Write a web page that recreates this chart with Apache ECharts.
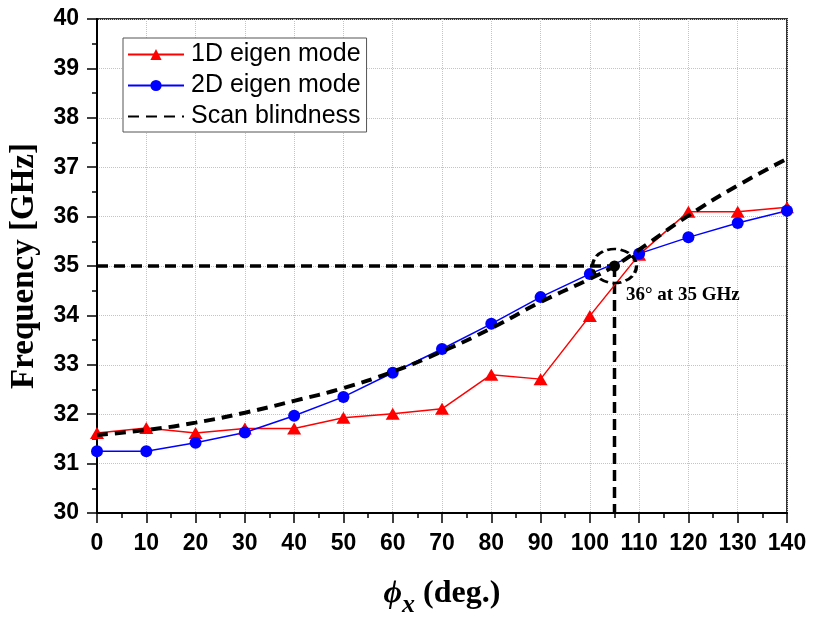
<!DOCTYPE html>
<html>
<head>
<meta charset="utf-8">
<script src="https://cdn.jsdelivr.net/npm/echarts@6/dist/echarts.min.js"></script>
<style>
html,body{margin:0;padding:0;background:#fff;}
#chart{width:813px;height:619px;}
</style>
</head>
<body>
<div id="chart"></div>
<script>
// ---- data ----
const angles = [0, 10, 20, 30, 40, 50, 60, 70, 80, 90, 100, 110, 120, 130, 140];
const mode1D = [31.62, 31.72, 31.62, 31.71, 31.71, 31.93, 32.01, 32.11, 32.80, 32.71, 33.99, 35.23, 36.10, 36.10, 36.19];
const mode2D = [31.25, 31.25, 31.42, 31.63, 31.97, 32.35, 32.84, 33.32, 33.83, 34.37, 34.84, 35.25, 35.58, 35.87, 36.12];
const blindAngles = [0, 10, 20, 30, 40, 50, 60, 70, 80, 90, 100, 105, 110, 120, 130, 140];
const blindFreq = [31.58, 31.68, 31.83, 32.03, 32.27, 32.53, 32.86, 33.27, 33.74, 34.27, 34.74, 35.0, 35.33, 36.02, 36.63, 37.17];
const markAngle = 105;
const markFreq = 35;
const axisMinFreq = 30;
const axisMinAngle = 0;
const seriesNames = ['1D eigen mode', '2D eigen mode', 'Scan blindness'];
const annotationText = '36° at 35 GHz';

const pair = (xs, ys) => xs.map((x, i) => [x, ys[i]]);

const chart = echarts.init(document.getElementById('chart'), null, {renderer: 'canvas'});
const sansBold = {fontFamily: '"Liberation Sans", Arial, sans-serif', fontWeight: 'bold', color: '#000'};
const serifBold = {fontFamily: '"Liberation Serif", "Times New Roman", serif', fontWeight: 'bold', color: '#000'};

const option = {
  animation: false,
  backgroundColor: '#fff',
  grid: {left: 97, right: 26, top: 19, bottom: 106, containLabel: false, outerBoundsMode: 'none', show: true, borderColor: '#333', borderWidth: 2, backgroundColor: 'transparent'},
  legend: {
    data: [
      {name: seriesNames[0]},
      {name: seriesNames[1]},
      {name: seriesNames[2], itemStyle: {opacity: 0}}
    ],
    orient: 'vertical',
    left: 123, top: 38,
    padding: [4, 6, 3, 4],
    itemGap: 6,
    itemWidth: 56, itemHeight: 14,
    borderColor: '#555', borderWidth: 1,
    backgroundColor: '#fff',
    textStyle: {fontFamily: '"Liberation Sans", Arial, sans-serif', fontSize: 25, color: '#000', padding: [0, 0, 0, 2]}
  },
  xAxis: {
    type: 'value', min: 0, max: 140, interval: 10,
    axisLine: {show: true, onZero: false, lineStyle: {color: '#000', width: 2}},
    axisTick: {show: true, length: 10, lineStyle: {color: '#000', width: 1.5}},
    minorTick: {show: true, splitNumber: 2, length: 5, lineStyle: {color: '#000', width: 1.5}},
    splitLine: {show: true, lineStyle: {color: '#c4c4c4', type: 'dotted', width: 1}},
    axisLabel: Object.assign({fontSize: 23, margin: 19}, sansBold),
    name: '{p|ϕ}{s|x}{n| (deg.)}',
    nameLocation: 'middle',
    nameGap: 65,
    nameTextStyle: {
      rich: {
        p: Object.assign({fontSize: 32, fontStyle: 'italic', lineHeight: 34, verticalAlign: 'top'}, serifBold),
        s: Object.assign({fontSize: 26, fontStyle: 'italic', lineHeight: 26, padding: [14, 0, 0, 0], verticalAlign: 'top'}, serifBold),
        n: Object.assign({fontSize: 32, lineHeight: 34, verticalAlign: 'top'}, serifBold)
      }
    }
  },
  yAxis: {
    type: 'value', min: 30, max: 40, interval: 1,
    axisLine: {show: true, onZero: false, lineStyle: {color: '#000', width: 2}},
    axisTick: {show: true, length: 10, lineStyle: {color: '#000', width: 1.5}},
    minorTick: {show: true, splitNumber: 2, length: 5, lineStyle: {color: '#000', width: 1.5}},
    splitLine: {show: true, lineStyle: {color: '#c4c4c4', type: 'dotted', width: 1}},
    axisLabel: Object.assign({fontSize: 23, margin: 18}, sansBold),
    name: 'Frequency [GHz]',
    nameLocation: 'middle',
    nameGap: 56,
    nameTextStyle: Object.assign({fontSize: 33}, serifBold)
  },
  series: [
    {
      name: 'guideH', type: 'line', silent: true,
      data: [[axisMinAngle, markFreq], [markAngle, markFreq]],
      symbol: 'none',
      lineStyle: {color: '#000', width: 3.5, type: [11, 6]}, z: 3
    },
    {
      name: 'guideV', type: 'line', silent: true,
      data: [[markAngle, markFreq], [markAngle, axisMinFreq]],
      symbol: 'none',
      lineStyle: {color: '#000', width: 3.5, type: [11, 6]}, z: 3
    },
    {
      name: seriesNames[0], type: 'line',
      data: pair(angles, mode1D),
      symbol: 'triangle', symbolSize: [14, 12],
      itemStyle: {color: '#ff0000'},
      lineStyle: {color: '#ff0000', width: 1.5}, z: 4
    },
    {
      name: seriesNames[1], type: 'line',
      data: pair(angles, mode2D),
      symbol: 'circle', symbolSize: 12,
      itemStyle: {color: '#0000ff'},
      lineStyle: {color: '#0000ff', width: 1.5}, z: 4
    },
    {
      name: seriesNames[2], type: 'line',
      data: pair(blindAngles, blindFreq),
      smooth: true, symbol: 'none',
      itemStyle: {color: '#000'},
      lineStyle: {color: '#000', width: 4, type: [11, 7]}, z: 5
    },
    {
      name: 'markDot', type: 'scatter',
      data: [[markAngle, markFreq]],
      symbol: 'circle', symbolSize: 11,
      itemStyle: {color: '#000', opacity: 1},
      label: {
        show: true, position: 'right', distance: 6, offset: [0, 29],
        formatter: annotationText,
        fontFamily: '"Liberation Serif", "Times New Roman", serif', fontWeight: 'bold', fontSize: 19, color: '#000'
      },
      z: 6
    },
    {
      name: 'markRing', type: 'scatter',
      data: [[markAngle, markFreq]],
      symbol: 'circle', symbolSize: [44, 34],
      itemStyle: {color: 'rgba(0,0,0,0)', opacity: 1, borderColor: '#000', borderWidth: 3, borderType: [8, 4]},
      z: 6
    }
  ]
};
chart.setOption(option);
</script>
</body>
</html>
